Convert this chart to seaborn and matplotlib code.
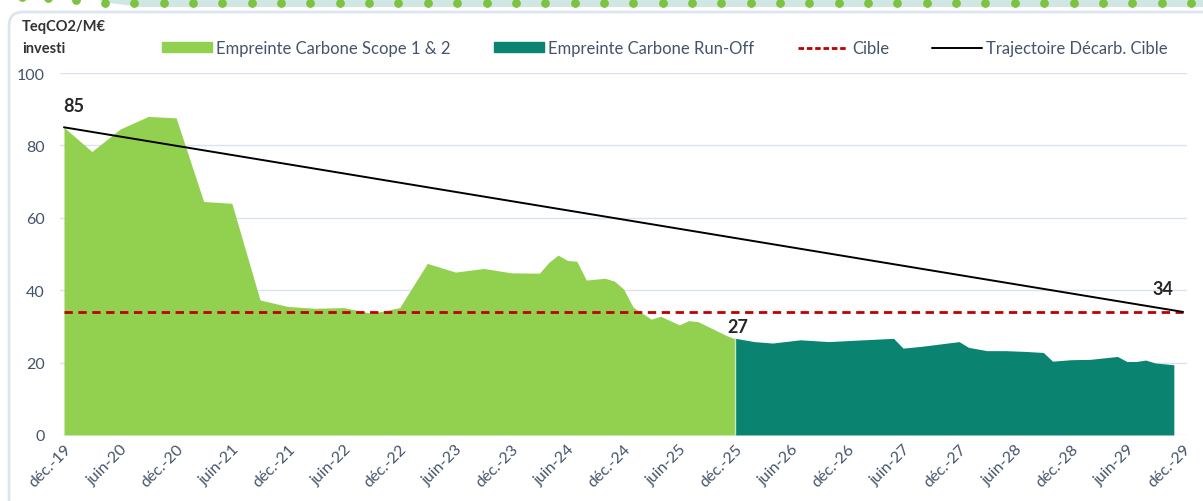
import pandas as pd
import numpy as np
import matplotlib
matplotlib.use("Agg")
import matplotlib.pyplot as plt
from matplotlib.patches import Patch, FancyBboxPatch, Polygon
from matplotlib.lines import Line2D
import seaborn as sns

# ---- data ----
scope_dates = ["2019-12", "2020-03", "2020-06", "2020-09", "2020-12", "2021-03",
               "2021-06", "2021-09", "2021-12", "2022-03", "2022-06", "2022-09",
               "2022-12", "2023-03", "2023-06", "2023-09", "2023-12", "2024-03",
               "2024-04", "2024-05", "2024-06", "2024-07", "2024-08", "2024-10",
               "2024-11", "2024-12", "2025-01", "2025-03", "2025-04", "2025-06",
               "2025-07", "2025-08", "2025-11", "2025-12"]
scope_values = [85, 78.3, 84.5, 88, 87.6, 64.5, 64, 37.3, 35.5, 35, 35.2, 33.6,
                35.2, 47.4, 45, 46, 44.8, 44.7, 47.7, 49.7, 48.2, 48, 42.8, 43.3,
                42.5, 40.3, 35.3, 32, 32.8, 30.4, 31.6, 31.3, 27.5, 26.5]

runoff_dates = ["2025-12", "2026-02", "2026-04", "2026-07", "2026-10", "2027-01",
                "2027-05", "2027-06", "2027-08", "2027-12", "2028-01", "2028-03",
                "2028-05", "2028-07", "2028-09", "2028-10", "2028-12", "2029-02",
                "2029-05", "2029-06", "2029-07", "2029-08", "2029-09", "2029-11"]
runoff_values = [26.7, 25.8, 25.4, 26.3, 25.8, 26.2, 26.7, 24, 24.5, 25.8, 24.2,
                 23.3, 23.3, 23.1, 22.8, 20.4, 20.8, 20.9, 21.7, 20.3, 20.3, 20.7,
                 19.9, 19.4]

traj_dates = ["2019-12", "2020-12", "2021-12", "2022-12", "2023-12", "2024-12",
              "2025-12", "2026-12", "2027-12", "2028-12", "2029-12"]
traj_values = [85, 79.9, 74.8, 69.7, 64.6, 59.5, 54.4, 49.3, 44.2, 39.1, 34]

cible_dates = ["2019-12", "2029-12"]
cible_values = [34, 34]

tick_dates = ["2019-12", "2020-06", "2020-12", "2021-06", "2021-12", "2022-06",
              "2022-12", "2023-06", "2023-12", "2024-06", "2024-12", "2025-06",
              "2025-12", "2026-06", "2026-12", "2027-06", "2027-12", "2028-06",
              "2028-12", "2029-06", "2029-12"]
tick_labels = ["déc.-19", "juin-20", "déc.-20", "juin-21", "déc.-21", "juin-22",
               "déc.-22", "juin-23", "déc.-23", "juin-24", "déc.-24", "juin-25",
               "déc.-25", "juin-26", "déc.-26", "juin-27", "déc.-27", "juin-28",
               "déc.-28", "juin-29", "déc.-29"]

labels = ["Empreinte Carbone Scope 1 & 2", "Empreinte Carbone Run-Off",
          "Cible", "Trajectoire Décarb. Cible"]

GREEN = "#92D050"
TEAL = "#0A8470"
RED = "#C00000"
TXT = "#44546A"

sns.set_style("white")
plt.rcParams["font.family"] = ["Lato", "DejaVu Sans"]

scope = pd.DataFrame({"date": pd.to_datetime(scope_dates), "v": scope_values})
runoff = pd.DataFrame({"date": pd.to_datetime(runoff_dates), "v": runoff_values})
traj = pd.DataFrame({"date": pd.to_datetime(traj_dates), "v": traj_values})
cible = pd.DataFrame({"date": pd.to_datetime(cible_dates), "v": cible_values})

W, H = 1203, 502
fig = plt.figure(figsize=(W / 100, H / 100), dpi=100)

# decoration: top band with dots and rounded frame
bg = fig.add_axes([0, 0, 1, 1], zorder=-1)
bg.set_xlim(0, W)
bg.set_ylim(H, 0)
bg.axis("off")
bg.add_patch(Polygon([(95, 0), (W, 0), (W, 8), (140, 8), (110, 4)],
                     closed=True, color="#CFE6E2", lw=0))
dots_x = np.arange(105, W, 29.35)
bg.scatter(dots_x, np.full(len(dots_x), 4), s=28, color="#7DC242", zorder=3)
bg.scatter([76, 48, 22], [1, -1, -2], s=28, color="#7DC242", zorder=3)
bg.add_patch(FancyBboxPatch((9, 13), W + 40, H, boxstyle="round,pad=0,rounding_size=14",
                            fc="white", ec="#DCE4EE", lw=2))

ax = fig.add_axes([60 / W, 66 / H, 1127 / W, 362 / H])
ax.set_facecolor("none")

ax.fill_between(scope["date"], scope["v"], 0, color=GREEN, lw=0, zorder=2)
ax.fill_between(runoff["date"], runoff["v"], 0, color=TEAL, lw=0, zorder=2)
ax.axvline(pd.Timestamp("2025-12-01"), ymax=runoff_values[0] / 100, color="#C8E6C0",
           lw=1, zorder=3)
sns.lineplot(data=cible, x="date", y="v", ax=ax, color=RED, lw=2,
             linestyle=(0, (3, 2)), zorder=4)
sns.lineplot(data=traj, x="date", y="v", ax=ax, color="black", lw=1.4, zorder=5)

ax.set_ylim(0, 100)
ax.set_yticks([0, 20, 40, 60, 80, 100])
ax.set_xlim(pd.Timestamp("2019-12-01") - pd.Timedelta(days=13),
            pd.Timestamp("2029-12-01") + pd.Timedelta(days=13))
ax.set_xticks(pd.to_datetime(tick_dates))
ax.set_xticklabels(tick_labels, rotation=45, ha="right", rotation_mode="anchor")
ax.set_xlabel("")
ax.set_ylabel("")
ax.grid(axis="y", color="#D9E2EF", lw=1)
ax.set_axisbelow(True)
sns.despine(ax=ax, left=True, bottom=True)
ax.tick_params(axis="y", length=0, pad=11, labelsize=11.5, labelcolor=TXT)
ax.tick_params(axis="x", length=0, pad=5, labelsize=11.5, labelcolor=TXT)

ax.text(pd.Timestamp("2020-01-01"), 91, "85", fontsize=13, fontweight="bold",
        ha="center", va="center")
ax.text(pd.Timestamp("2025-12-08"), 30, "27", fontsize=13, fontweight="bold",
        ha="center", va="center")
ax.text(pd.Timestamp("2029-09-25"), 40.5, "34", fontsize=13, fontweight="bold",
        ha="center", va="center")

fig.text(22 / W, 1 - 20 / H, "TeqCO2/M€\ninvesti", fontsize=10.5,
         fontweight="bold", color="#333333", ha="left", va="top", linespacing=1.7)

handles = [Patch(color=GREEN), Patch(color=TEAL),
           Line2D([], [], color=RED, lw=2, linestyle=(0, (2, 1))),
           Line2D([], [], color="black", lw=1.4)]
fig.legend(handles, labels, loc="center", bbox_to_anchor=(665 / W, 1 - 49 / H),
           ncol=4, frameon=False, fontsize=12, handlelength=3.0, handleheight=0.55,
           handletextpad=0.25, columnspacing=2.6, labelcolor=TXT)

fig.savefig("out.png", dpi=100)
